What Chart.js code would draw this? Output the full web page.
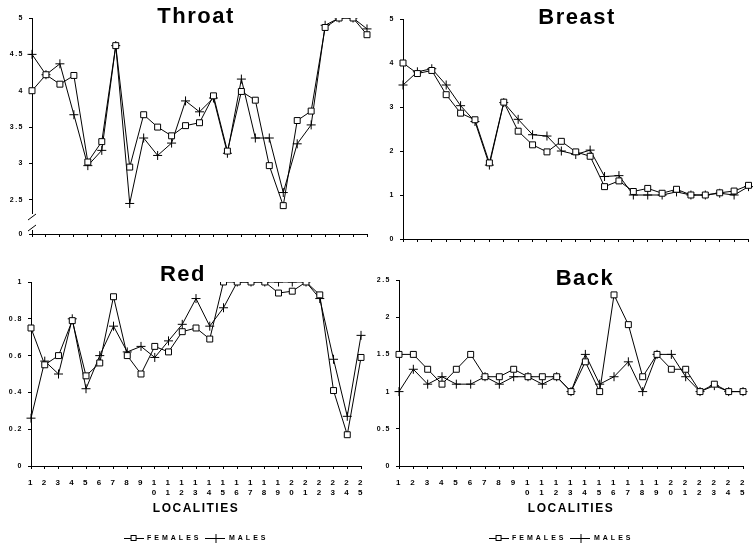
<!DOCTYPE html>
<html>
<head>
<meta charset="utf-8">
<script src="https://cdn.jsdelivr.net/npm/chart.js@4.4.0/dist/chart.umd.min.js"></script>
<style>
  html, body { margin: 0; padding: 0; background: #fff; width: 754px; height: 547px; overflow: hidden; }
  canvas { position: absolute; }
</style>
</head>
<body>
<canvas id="throat" width="377" height="260" style="left:0;top:0"></canvas>
<canvas id="breast" width="384" height="265" style="left:370px;top:0"></canvas>
<canvas id="red" width="372" height="300" style="left:0;top:258px"></canvas>
<canvas id="back" width="384" height="300" style="left:370px;top:258px"></canvas>
<script>
// localities 1..25
const localities = ['1','2','3','4','5','6','7','8','9','10','11','12','13','14','15','16','17','18','19','20','21','22','23','24','25'];

const throatFemales = [4.0, 4.22, 4.09, 4.21, 3.02, 3.3, 4.62, 2.95, 3.67, 3.5, 3.38, 3.52, 3.56, 3.93, 3.17, 3.99, 3.87, 2.97, 2.42, 3.59, 3.72, 4.87, 5.0, 5.0, 4.77];
const throatMales   = [4.5, 4.22, 4.37, 3.67, 2.97, 3.18, 4.62, 2.45, 3.35, 3.11, 3.28, 3.86, 3.71, 3.9, 3.14, 4.16, 3.35, 3.35, 2.6, 3.27, 3.53, 4.9, 5.0, 5.0, 4.85];

const breastFemales = [4.0, 3.76, 3.83, 3.28, 2.86, 2.71, 1.73, 3.11, 2.45, 2.14, 1.98, 2.22, 1.98, 1.88, 1.19, 1.32, 1.08, 1.15, 1.04, 1.13, 1.0, 1.0, 1.05, 1.09, 1.22];
const breastMales   = [3.5, 3.8, 3.87, 3.5, 3.03, 2.67, 1.68, 3.1, 2.72, 2.37, 2.34, 2.0, 1.92, 2.02, 1.42, 1.44, 1.0, 1.0, 1.0, 1.07, 1.0, 1.0, 1.04, 1.0, 1.19];

const redFemales = [0.75, 0.55, 0.6, 0.79, 0.49, 0.56, 0.92, 0.6, 0.5, 0.65, 0.62, 0.73, 0.75, 0.69, 1, 1, 1, 1, 0.94, 0.95, 1, 0.93, 0.41, 0.17, 0.59];
const redMales   = [0.26, 0.57, 0.5, 0.8, 0.42, 0.6, 0.76, 0.62, 0.65, 0.59, 0.68, 0.77, 0.91, 0.76, 0.86, 1, 1, 1, 1, 1, 1, 0.91, 0.58, 0.27, 0.71];

const backFemales = [1.5, 1.5, 1.3, 1.1, 1.3, 1.5, 1.2, 1.2, 1.3, 1.2, 1.2, 1.2, 1.0, 1.4, 1.0, 2.3, 1.9, 1.2, 1.5, 1.3, 1.3, 1.0, 1.1, 1.0, 1.0];
const backMales   = [1.0, 1.3, 1.1, 1.2, 1.1, 1.1, 1.2, 1.1, 1.2, 1.2, 1.1, 1.2, 1.0, 1.5, 1.1, 1.2, 1.4, 1.0, 1.5, 1.5, 1.2, 1.0, 1.08, 1.0, 1.0];

// y tick labels; throat axis is broken below 2.5, its "0" sits at the axis bottom
const throatTicks = [0, 2.5, 3, 3.5, 4, 4.5, 5];
const breastTicks = [0, 1, 2, 3, 4, 5];
const redTicks    = [0, 0.2, 0.4, 0.6, 0.8, 1];
const backTicks   = [0, 0.5, 1, 1.5, 2, 2.5];
const throatBreakMin = 2.03;

Chart.defaults.font.family = '"Liberation Sans", Arial, sans-serif';
Chart.defaults.color = '#000';

// little line+marker pictures for the legend
function legendIcon(kind) {
  const c = document.createElement('canvas');
  c.width = 20; c.height = 9;
  const g = c.getContext('2d');
  g.strokeStyle = '#000'; g.lineWidth = 1;
  g.beginPath(); g.moveTo(0, 4.5); g.lineTo(20, 4.5); g.stroke();
  if (kind == 'rect') {
    g.fillStyle = '#fff';
    g.fillRect(7, 1, 6, 6); g.strokeRect(7.5, 1.5, 5, 5);
  } else {
    g.beginPath(); g.moveTo(10.5, 0); g.lineTo(10.5, 9); g.stroke();
  }
  return c;
}
const legendIcons = [legendIcon('rect'), legendIcon('cross')];

function spaceLegend(chart) {
  const lg = chart.legend;
  if (!lg || lg._spaced) return;
  lg._spaced = true;
  ['fit', 'draw'].forEach(fn => {
    const orig = lg[fn];
    lg[fn] = function(...a) {
      const old = this.ctx.letterSpacing;
      this.ctx.letterSpacing = '3px';
      const r = orig.apply(this, a);
      this.ctx.letterSpacing = old;
      return r;
    };
  });
}

const paperLook = {
  id: 'paperLook',
  beforeUpdate(chart) { chart.ctx.letterSpacing = '1.5px'; spaceLegend(chart); },
  beforeDraw(chart) { chart.ctx.letterSpacing = '1.5px'; },
  afterDraw(chart, args, o) {
    const ctx = chart.ctx;
    ctx.save();
    ctx.font = 'bold 22px "Liberation Sans", Arial, sans-serif';
    ctx.fillStyle = '#000';
    ctx.textAlign = 'center';
    ctx.textBaseline = 'middle';
    ctx.fillText(o.text, o.x, o.y);
    if (o.axisBreak) {
      const x = chart.scales.y.left + chart.scales.y.width;
      const b = chart.scales.y.bottom;
      ctx.fillStyle = '#fff';
      ctx.fillRect(x - 2, b - 20, 4, 16);
      ctx.strokeStyle = '#000';
      ctx.lineWidth = 1;
      ctx.beginPath();
      ctx.moveTo(x - 4, b - 14); ctx.lineTo(x + 4, b - 20);
      ctx.moveTo(x - 4, b - 3); ctx.lineTo(x + 4, b - 9);
      ctx.stroke();
    }
    ctx.restore();
  }
};

function panel(id, title, females, males, p) {
  const small = { size: 7, weight: 'bold' };
  return new Chart(document.getElementById(id), {
    type: 'line',
    data: {
      labels: localities,
      datasets: [
        { label: 'FEMALES', data: females, borderColor: '#000', borderWidth: 1, pointStyle: 'rect',
          pointRadius: 4.2, pointBackgroundColor: '#fff', pointBorderColor: '#000', pointBorderWidth: 1 },
        { label: 'MALES', data: males, borderColor: '#000', borderWidth: 1, pointStyle: 'cross',
          pointRadius: 4.5, pointBorderColor: '#000', pointBorderWidth: 1 }
      ]
    },
    options: {
      responsive: false,
      animation: false,
      devicePixelRatio: 1,
      layout: { padding: { top: p.top, right: p.right, left: 0, bottom: p.bottom || 0 } },
      plugins: {
        tooltip: { enabled: false },
        legend: {
          display: p.bottomRow,
          position: 'bottom',
          fullSize: p.legendFull,
          labels: {
            usePointStyle: true, pointStyleWidth: 20, padding: 4, color: '#000',
            font: small,
            generateLabels: chart => chart.data.datasets.map((ds, i) => ({
              text: ds.label, pointStyle: legendIcons[i], fontColor: '#000',
              lineWidth: 0, strokeStyle: 'transparent', fillStyle: 'transparent', hidden: false, datasetIndex: i
            }))
          }
        },
        paperLook: { text: title, x: p.tx, y: p.ty, axisBreak: p.axisBreak }
      },
      scales: {
        x: {
          grid: { drawOnChartArea: false, tickLength: 3, color: '#000' },
          border: { color: '#000', width: 1 },
          ticks: {
            display: p.bottomRow, autoSkip: false, maxRotation: 0, padding: 8,
            font: { size: 8, weight: 'bold', lineHeight: 1.35 },
            callback: function(v) { const l = this.getLabelForValue(v); return l.length > 1 ? l.split('') : l; }
          },
          title: { display: p.bottomRow, text: 'LOCALITIES', font: { size: 12, weight: 'bold' }, padding: { top: 2, bottom: 15 } },
          afterFit: s => { s.height = p.xh; }
        },
        y: {
          min: p.min, max: p.max,
          afterBuildTicks: s => { s.ticks = p.ticks.map(v => ({ value: v == 0 ? p.min : v })); },
          grid: { drawOnChartArea: false, tickLength: 3, color: '#000' },
          border: { color: '#000', width: 1 },
          ticks: { padding: 5, font: small, callback: v => (v == p.min ? '0' : String(v)) },
          afterFit: s => { s.width = p.yw; }
        }
      }
    },
    plugins: [paperLook]
  });
}

panel('throat', 'Throat', throatFemales, throatMales,
  { top: 18, right: 10, yw: 32, xh: 26, min: throatBreakMin, max: 5, ticks: throatTicks, tx: 196, ty: 17, axisBreak: true, bottomRow: false });
panel('breast', 'Breast', breastFemales, breastMales,
  { top: 19, right: 2, yw: 33, xh: 26, min: 0, max: 5, ticks: breastTicks, tx: 207, ty: 18, bottomRow: false });
panel('red', 'Red', redFemales, redMales,
  { top: 24, right: 10, bottom: 6, yw: 31, xh: 65, min: 0, max: 1, ticks: redTicks, tx: 183, ty: 17, bottomRow: true, legendFull: false });
panel('back', 'Back', backFemales, backMales,
  { top: 22, right: 2, bottom: 6, yw: 29, xh: 65, min: 0, max: 2.5, ticks: backTicks, tx: 215, ty: 21, bottomRow: true, legendFull: true });
</script>
</body>
</html>
